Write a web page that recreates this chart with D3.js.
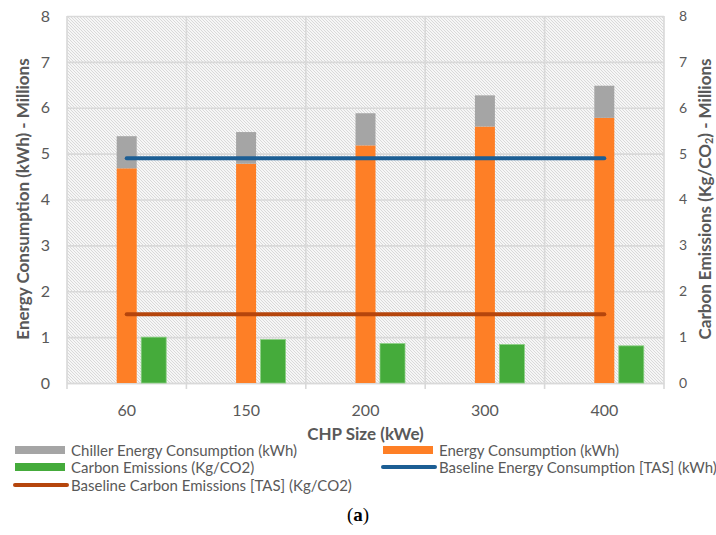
<!DOCTYPE html>
<html>
<head>
<meta charset="utf-8">
<script src="https://cdn.jsdelivr.net/npm/d3@7"></script>
<style>
  html, body { margin: 0; padding: 0; background: #fff; }
  svg { display: block; font-family: Lato, "Open Sans", sans-serif; }
</style>
</head>
<body>
<svg id="chart" width="716" height="535"></svg>
<script>
// ---- data ----
const categories = ["60", "150", "200", "300", "400"];
const energyConsumption = [4.68, 4.78, 5.18, 5.59, 5.78];
const chillerConsumption = [0.70, 0.69, 0.70, 0.68, 0.70];
const carbonEmissions = [1.00, 0.95, 0.86, 0.84, 0.81];
const baselineEnergy = [4.9, 4.9, 4.9, 4.9, 4.9];
const baselineCarbon = [1.5, 1.5, 1.5, 1.5, 1.5];
const yTicks = [0, 1, 2, 3, 4, 5, 6, 7, 8];

const colors = {
  chiller: "#a5a5a5",
  energy: "#fe7f26",
  carbon: "#45ab3b",
  baseE: "#1c5e94",
  baseC: "#b5450c",
  text: "#595959",
  grid: "#d9d9d9"
};

const svg = d3.select("#chart");
const plot = { left: 67, right: 664, top: 16, bottom: 383 };

const x = d3.scaleBand().domain(categories).range([plot.left, plot.right]).padding(0);
const y = d3.scaleLinear().domain([0, 8]).range([plot.bottom, plot.top]);
const y2 = d3.scaleLinear().domain([0, 8]).range([plot.bottom, plot.top]);

// hatch pattern
const defs = svg.append("defs");
const pat = defs.append("pattern")
  .attr("id", "hatch").attr("patternUnits", "userSpaceOnUse")
  .attr("width", 3).attr("height", 3);
pat.append("rect").attr("width", 3).attr("height", 3).attr("fill", "#f6f6f6");
pat.append("path").attr("d", "M-1,-1 L4,4 M-1,2 L1,4 M2,-1 L4,1")
  .attr("stroke", "#d6d6d6").attr("stroke-width", 0.9);

svg.append("rect")
  .attr("x", plot.left).attr("y", plot.top)
  .attr("width", plot.right - plot.left).attr("height", plot.bottom - plot.top)
  .attr("fill", "url(#hatch)");

// horizontal gridlines
svg.append("g")
  .attr("transform", `translate(${plot.left},0)`)
  .call(d3.axisLeft(y).tickValues(yTicks).tickSize(-(plot.right - plot.left)).tickFormat(""))
  .call(g => g.select(".domain").remove())
  .call(g => g.selectAll("line").attr("stroke", colors.grid).attr("stroke-width", 1.6));

// vertical gridlines at band boundaries
const bounds = categories.map(c => x(c)).concat([x(categories[categories.length - 1]) + x.bandwidth()]);
svg.append("g").selectAll("line").data(bounds).join("line")
  .attr("x1", d => d).attr("x2", d => d)
  .attr("y1", plot.top).attr("y2", plot.bottom + 6)
  .attr("stroke", colors.grid).attr("stroke-width", 1.6);

// left axis labels
svg.append("g")
  .attr("transform", `translate(${plot.left},0)`)
  .call(d3.axisLeft(y).tickValues(yTicks).tickSize(0).tickPadding(17))
  .call(g => g.select(".domain").remove())
  .call(g => g.selectAll("text").attr("fill", colors.text).attr("font-size", 16).attr("font-family", "Lato"));

// right axis labels
svg.append("g")
  .attr("transform", `translate(${plot.right},0)`)
  .call(d3.axisRight(y2).tickValues(yTicks).tickSize(0).tickPadding(15))
  .call(g => g.select(".domain").remove())
  .call(g => g.selectAll("text").attr("fill", colors.text).attr("font-size", 14).attr("font-family", "Lato"));

// x axis labels
svg.append("g")
  .attr("transform", `translate(0,${plot.bottom})`)
  .call(d3.axisBottom(x).tickSize(0).tickPadding(22))
  .call(g => g.select(".domain").attr("stroke", colors.grid).attr("stroke-width", 1.6))
  .call(g => g.selectAll("text").attr("fill", colors.text).attr("font-size", 16).attr("font-family", "Lato"));

// bars: energy (orange) + chiller (gray) stacked
const bw = 20, gw = 25;
const bars = svg.append("g");
bars.selectAll("rect.energy").data(categories).join("rect")
  .attr("class", "energy")
  .attr("x", (d) => x(d) + x.bandwidth() / 2 - bw / 2)
  .attr("width", bw)
  .attr("y", (d, i) => y(energyConsumption[i]))
  .attr("height", (d, i) => y(0) - y(energyConsumption[i]))
  .attr("fill", colors.energy);
bars.selectAll("rect.chiller").data(categories).join("rect")
  .attr("class", "chiller")
  .attr("x", (d) => x(d) + x.bandwidth() / 2 - bw / 2)
  .attr("width", bw)
  .attr("y", (d, i) => y(energyConsumption[i] + chillerConsumption[i]))
  .attr("height", (d, i) => y(energyConsumption[i]) - y(energyConsumption[i] + chillerConsumption[i]))
  .attr("fill", colors.chiller);
bars.selectAll("rect.carbon").data(categories).join("rect")
  .attr("class", "carbon")
  .attr("x", (d) => x(d) + x.bandwidth() / 2 + 14.5)
  .attr("width", gw)
  .attr("y", (d, i) => y2(carbonEmissions[i]))
  .attr("height", (d, i) => y2(0) - y2(carbonEmissions[i]))
  .attr("fill", colors.carbon)
  .attr("stroke", "#8dd085").attr("stroke-width", 0.8);

// baseline lines
const lineE = d3.line().x((d, i) => x(categories[i]) + x.bandwidth() / 2).y(d => y(d));
const lineC = d3.line().x((d, i) => x(categories[i]) + x.bandwidth() / 2).y(d => y2(d));
svg.append("path").attr("d", lineE(baselineEnergy))
  .attr("fill", "none").attr("stroke", colors.baseE).attr("stroke-width", 4).attr("stroke-linecap", "round");
svg.append("path").attr("d", lineC(baselineCarbon))
  .attr("fill", "none").attr("stroke", colors.baseC).attr("stroke-width", 4).attr("stroke-linecap", "round");

// axis titles
svg.append("text")
  .attr("transform", `translate(22,199) rotate(-90)`)
  .attr("text-anchor", "middle").attr("dominant-baseline", "central")
  .attr("font-weight", "bold").attr("font-size", 17).attr("fill", colors.text)
  .text("Energy Consumption (kWh) - Millions");

const rt = svg.append("text")
  .attr("transform", `translate(704,199) rotate(-90)`)
  .attr("text-anchor", "middle").attr("dominant-baseline", "central")
  .attr("font-weight", "bold").attr("font-size", 17).attr("fill", colors.text);
rt.append("tspan").text("Carbon Emissions (Kg/CO");
rt.append("tspan").attr("font-size", 11).attr("dy", 4).text("2");
rt.append("tspan").attr("dy", -4).text(") - Millions");

svg.append("text")
  .attr("x", (plot.left + plot.right) / 2).attr("y", 433)
  .attr("text-anchor", "middle").attr("dominant-baseline", "central")
  .attr("font-weight", "bold").attr("font-size", 17).attr("fill", colors.text)
  .text("CHP Size (kWe)");

// legend
const legendItems = [
  { label: "Chiller Energy Consumption (kWh)", type: "rect", color: colors.chiller, x: 14, y: 450 },
  { label: "Energy Consumption (kWh)", type: "rect", color: colors.energy, x: 382, y: 450 },
  { label: "Carbon Emissions (Kg/CO2)", type: "rect", color: colors.carbon, x: 14, y: 467 },
  { label: "Baseline Energy Consumption [TAS] (kWh)", type: "line", color: colors.baseE, x: 382, y: 467 },
  { label: "Baseline Carbon Emissions [TAS] (Kg/CO2)", type: "line", color: colors.baseC, x: 14, y: 485 }
];
const lg = svg.append("g");
legendItems.forEach(it => {
  if (it.type === "rect") {
    lg.append("rect").attr("x", it.x + 1).attr("y", it.y - 4).attr("width", 50).attr("height", 8).attr("fill", it.color);
  } else {
    lg.append("line").attr("x1", it.x + 1).attr("x2", it.x + 53).attr("y1", it.y).attr("y2", it.y)
      .attr("stroke", it.color).attr("stroke-width", 4).attr("stroke-linecap", "round");
  }
  lg.append("text").attr("x", it.x + 57).attr("y", it.y)
    .attr("dominant-baseline", "central").attr("font-size", 15).attr("fill", colors.text)
    .text(it.label);
});

// caption
const cap = svg.append("text")
  .attr("x", 358).attr("y", 514).attr("text-anchor", "middle").attr("dominant-baseline", "central")
  .attr("font-family", "Liberation Serif, serif").attr("font-size", 19).attr("fill", "#000");
cap.append("tspan").text("(");
cap.append("tspan").attr("font-weight", "bold").text("a");
cap.append("tspan").text(")");
</script>
</body>
</html>
